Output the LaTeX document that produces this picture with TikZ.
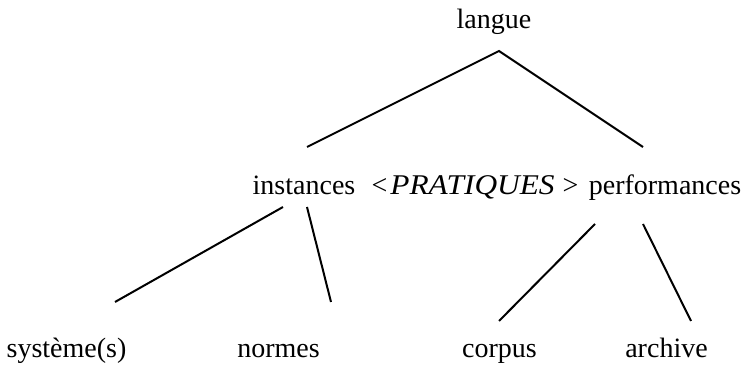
\documentclass[tikz,border=0pt]{standalone}
\usepackage{fontspec}
\setmainfont{Liberation Serif}
\usepackage{graphicx}
\usepackage{tikz}
\usetikzlibrary{positioning,calc}
\tikzset{
  lbl/.style={font=\fontsize{14pt}{16pt}\selectfont, inner sep=0pt, anchor=base},
  brn/.style={black, line width=1pt},
}

\begin{document}
\begin{tikzpicture}[x=0.5pt, y=-0.5pt]
\useasboundingbox (0,0) rectangle (755,367);
% top and middle row
\node[lbl] (langue) at (494,29) {langue};
\node[lbl] (inst) at (304,195) {instances};
\node[lbl] (prat) at (475,195)
  {<\hspace{1.5pt}\scalebox{1.12}[1.02]{\itshape PRATIQUES}\hspace{4pt}>};
\node[lbl] (perf) at (665,195) {performances};
% bottom row
\node[lbl] (syst) at (66.5,358) {système(s)};
\node[lbl] (norm) at (278.5,358) {normes};
\node[lbl] (corp) at (499.5,358) {corpus};
\node[lbl] (arch) at (666.5,358) {archive};
% branches
\draw[brn] ([shift={(3,-48)}]inst.base) -- ([shift={(5,22)}]langue.base)
  -- ([shift={(-22,-48)}]perf.base);
\draw[brn] ([shift={(-21,12)}]inst.base) -- ([shift={(48.5,-56)}]syst.base);
\draw[brn] ([shift={(3,12)}]inst.base) -- ([shift={(52.5,-56)}]norm.base);
\draw[brn] ([shift={(-70,29)}]perf.base) -- ([shift={(-0.5,-37)}]corp.base);
\draw[brn] ([shift={(-22,29)}]perf.base) -- ([shift={(24.5,-37)}]arch.base);
\end{tikzpicture}
\end{document}
